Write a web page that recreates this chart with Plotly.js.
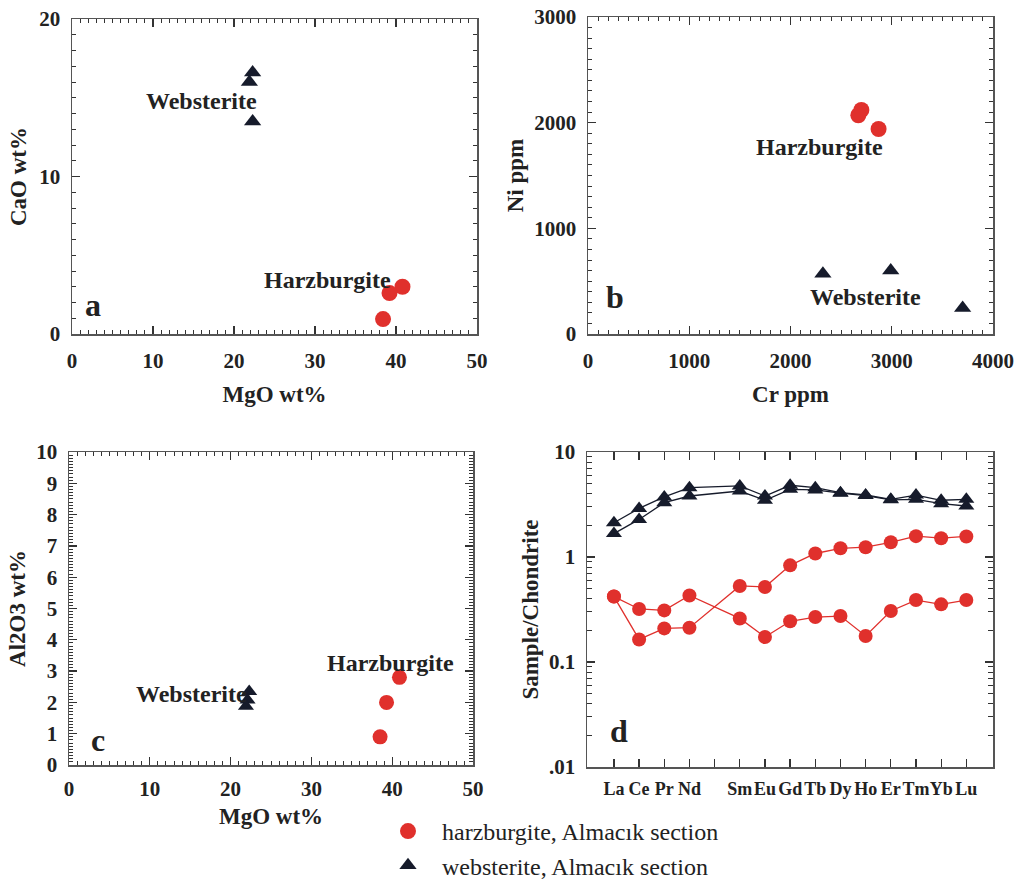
<!DOCTYPE html>
<html>
<head>
<meta charset="utf-8">
<script src="https://cdn.plot.ly/plotly-3.0.1.min.js"></script>
<style>html,body{margin:0;padding:0;background:#fff;}#chart{width:1020px;height:882px;}</style>
</head>
<body>
<div id="chart"></div>
<script>
// ---- Data ----
// Panel a: MgO vs CaO
const harzMgO = [40.8, 39.2, 38.4];
const harzCaO = [3.0, 2.6, 0.95];
const webMgO = [22.3, 21.9, 22.3];
const webCaO = [16.6, 16.0, 13.5];
// Panel b: Cr vs Ni
const harzCr = [2700, 2670, 2870];
const harzNi = [2120, 2070, 1940];
const webCr = [2320, 2990, 3700];
const webNi = [570, 600, 245];
// Panel c: MgO vs Al2O3
const harzMgO_c = [40.9, 39.3, 38.5];
const harzAl2O3 = [2.8, 2.0, 0.9];
const webMgO_c = [22.3, 22.1, 21.9];
const webAl2O3 = [2.35, 2.08, 1.88];
// Panel d: REE chondrite-normalised patterns
const reeLabels = ["La", "Ce", "Pr", "Nd", "", "Sm", "Eu", "Gd", "Tb", "Dy", "Ho", "Er", "Tm", "Yb", "Lu"];
const reeElements = ["La", "Ce", "Pr", "Nd", "Sm", "Eu", "Gd", "Tb", "Dy", "Ho", "Er", "Tm", "Yb", "Lu"];
const harzREE1 = [0.42, 0.32, 0.31, 0.43, 0.26, 0.173, 0.244, 0.268, 0.274, 0.177, 0.306, 0.389, 0.354, 0.389];
const harzREE2 = [0.42, 0.164, 0.209, 0.212, 0.53, 0.518, 0.833, 1.08, 1.21, 1.24, 1.38, 1.58, 1.51, 1.57];
const webREE1 = [2.12, 2.9, 3.73, 4.57, 4.75, 3.81, 4.82, 4.57, 4.1, 3.9, 3.54, 3.89, 3.47, 3.54];
const webREE2 = [1.67, 2.28, 3.29, 3.81, 4.25, 3.47, 4.41, 4.35, 4.05, 3.85, 3.5, 3.54, 3.22, 3.06];

// Tick values / labels
const mgoTicks = [0, 10, 20, 30, 40, 50];
const caoTicks = [0, 10, 20];
const crTicks = [0, 1000, 2000, 3000, 4000];
const niTicks = [0, 1000, 2000, 3000];
const alTicks = [0, 1, 2, 3, 4, 5, 6, 7, 8, 9, 10];
const logTicks = [0.01, 0.1, 1, 10];
const logTickText = [".01", "0.1", "1", "10"];

// ---- Styles ----
const RED = "#e0302c";
const NAVY = "#161b2b";
const TXT = "#222222";
const SERIF = "'Liberation Serif', 'Times New Roman', serif";
const TICKF = {family: SERIF, size: 21, color: TXT};
const TFONT = {family: SERIF, size: 23, color: TXT, weight: 700};
const LBL = {family: SERIF, size: 24, color: TXT, weight: 700};
const LET = {family: SERIF, size: 32, color: TXT, weight: 700};
const b = arr => arr.map(v => "<b>" + v + "</b>");

// REE positions (Pm gap)
const reePos = reeElements.map(e => reeLabels.indexOf(e));

function sc(x, y, xa, ya, col, sym, size, name, showlegend, lines) {
  return {
    x: x, y: y, xaxis: xa, yaxis: ya, type: "scatter",
    mode: lines ? "lines+markers" : "markers",
    name: name, legendgroup: name, showlegend: showlegend,
    marker: {color: col, symbol: sym, size: size, line: {width: 0}},
    line: {color: col, width: 1.3},
    hoverinfo: "x+y"
  };
}

const data = [
  sc(harzMgO, harzCaO, "x", "y", RED, "circle", 16, "harzburgite, Almacık section", true),
  sc(webMgO, webCaO, "x", "y", NAVY, "triangle-up", 15, "websterite, Almacık section", true),
  sc(harzCr, harzNi, "x2", "y2", RED, "circle", 16, "harzburgite, Almacık section", false),
  sc(webCr, webNi, "x2", "y2", NAVY, "triangle-up", 15, "websterite, Almacık section", false),
  sc(harzMgO_c, harzAl2O3, "x3", "y3", RED, "circle", 15, "harzburgite, Almacık section", false),
  sc(webMgO_c, webAl2O3, "x3", "y3", NAVY, "triangle-up", 14, "websterite, Almacık section", false),
  sc(reePos, webREE1, "x4", "y4", NAVY, "triangle-up", 14, "websterite, Almacık section", false, true),
  sc(reePos, webREE2, "x4", "y4", NAVY, "triangle-up", 14, "websterite, Almacık section", false, true),
  sc(reePos, harzREE1, "x4", "y4", RED, "circle", 14, "harzburgite, Almacık section", false, true),
  sc(reePos, harzREE2, "x4", "y4", RED, "circle", 14, "harzburgite, Almacık section", false, true)
];

function ax(extra) {
  return Object.assign({
    showline: true, linecolor: "#555", linewidth: 1.5, mirror: "ticks",
    ticks: "inside", ticklen: 8, tickwidth: 1.3, tickcolor: "#333",
    showgrid: false, zeroline: false, tickfont: TICKF, tickangle: 0,
    fixedrange: true, ticklabelstandoff: 4, tickmode: "array"
  }, extra);
}
function minor(dt, len) {
  return {dtick: dt, tick0: 0, ticks: "inside", ticklen: len || 4, tickwidth: 1, tickcolor: "#333", showgrid: false};
}

const W = 1020, H = 882;
const dx = (a, c) => [a / W, c / W];
const dy = (top, bot) => [1 - bot / H, 1 - top / H];

const layout = {
  width: W, height: H,
  margin: {l: 0, r: 0, t: 0, b: 0, autoexpand: false},
  paper_bgcolor: "#fff", plot_bgcolor: "#fff",
  font: {family: SERIF, color: TXT},
  showlegend: true,
  legend: {
    x: 374 / W, y: 1 - 809 / H, xanchor: "left", yanchor: "top",
    font: {family: SERIF, size: 24, color: TXT},
    bgcolor: "rgba(0,0,0,0)", tracegroupgap: 0, itemwidth: 58
  },
  xaxis: ax({domain: dx(72, 477), anchor: "y", range: [0, 50], tickvals: mgoTicks, ticktext: b(mgoTicks),
    minor: minor(1), ticklabelstandoff: 7,
    title: {text: "MgO wt%", font: TFONT, standoff: 14}}),
  yaxis: ax({domain: dy(19, 334), anchor: "x", range: [0, 20], tickvals: caoTicks, ticktext: b(caoTicks),
    minor: minor(1), ticklabelstandoff: 6,
    title: {text: "CaO wt%", font: TFONT, standoff: 6}}),
  xaxis2: ax({domain: dx(588, 993), anchor: "y2", range: [0, 4000], tickvals: crTicks, ticktext: b(crTicks),
    minor: minor(100), ticklabelstandoff: 7,
    title: {text: "Cr ppm", font: TFONT, standoff: 14}}),
  yaxis2: ax({domain: dy(17, 334), anchor: "x2", range: [0, 3000], tickvals: niTicks, ticktext: b(niTicks),
    minor: minor(100), ticklabelstandoff: 6,
    title: {text: "Ni ppm", font: TFONT, standoff: 4}}),
  xaxis3: ax({domain: dx(69, 473), anchor: "y3", range: [0, 50], tickvals: mgoTicks, ticktext: b(mgoTicks),
    minor: minor(1), ticklabelstandoff: 4,
    title: {text: "MgO wt%", font: TFONT, standoff: 8}}),
  yaxis3: ax({domain: dy(452, 765), anchor: "x3", range: [0, 10], tickvals: alTicks, ticktext: b(alTicks),
    minor: minor(0.1), ticklabelstandoff: 6,
    title: {text: "Al2O3 wt%", font: TFONT, standoff: 4}}),
  xaxis4: ax({domain: dx(587, 993), anchor: "y4", range: [-1.07, 15.06],
    tickvals: reeLabels.map((_, i) => i), ticktext: b(reeLabels),
    tickfont: {family: SERIF, size: 18, color: TXT}, ticklabelstandoff: 5}),
  yaxis4: ax({domain: dy(452, 767), anchor: "x4", type: "log", range: [-2, 1],
    tickvals: logTicks, ticktext: b(logTickText), ticklabelstandoff: 6,
    minor: {tickvals: [0.02,0.03,0.04,0.05,0.06,0.07,0.08,0.09,0.2,0.3,0.4,0.5,0.6,0.7,0.8,0.9,2,3,4,5,6,7,8,9],
      ticks: "inside", ticklen: 5, tickwidth: 1, tickcolor: "#333", showgrid: false},
    title: {text: "Sample/Chondrite", font: TFONT, standoff: 4}}),
  annotations: [
    {xref: "x", yref: "y", x: 16.0, y: 14.8, text: "Websterite", showarrow: false, font: LBL},
    {xref: "x", yref: "y", x: 31.5, y: 3.43, text: "Harzburgite", showarrow: false, font: LBL},
    {xref: "x", yref: "y", x: 2.6, y: 1.84, text: "a", showarrow: false, font: LET},
    {xref: "x2", yref: "y2", x: 2291, y: 1770, text: "Harzburgite", showarrow: false, font: LBL},
    {xref: "x2", yref: "y2", x: 2736, y: 350, text: "Websterite", showarrow: false, font: LBL},
    {xref: "x2", yref: "y2", x: 267, y: 350, text: "b", showarrow: false, font: LET},
    {xref: "x3", yref: "y3", x: 39.85, y: 3.26, text: "Harzburgite", showarrow: false, font: LBL},
    {xref: "x3", yref: "y3", x: 15.2, y: 2.27, text: "Websterite", showarrow: false, font: LBL},
    {xref: "x3", yref: "y3", x: 3.6, y: 0.8, text: "c", showarrow: false, font: LET},
    {xref: "x4", yref: "y4", x: 0.2, y: Math.log10(0.022), text: "d", showarrow: false, font: LET}
  ]
};

Plotly.newPlot("chart", data, layout, {staticPlot: true, displayModeBar: false});
</script>
</body>
</html>
